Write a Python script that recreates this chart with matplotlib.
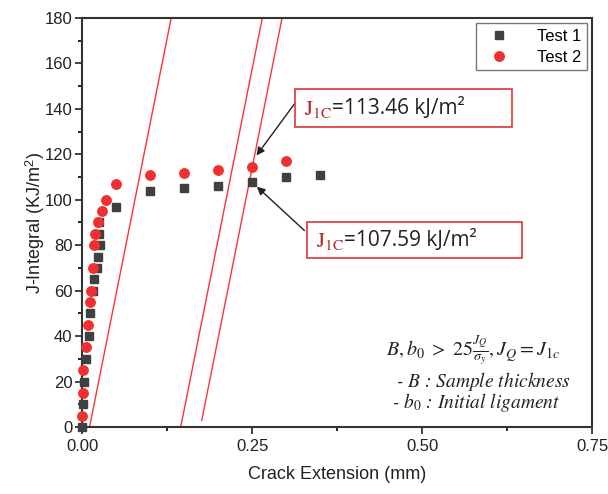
import numpy as np
import matplotlib.pyplot as plt
from matplotlib.patches import Rectangle

plt.rcParams['font.family'] = ['Liberation Sans', 'DejaVu Sans']
plt.rcParams['mathtext.fontset'] = 'stix'

# Test 1 (squares)
test1_da = [0, 0.002, 0.003, 0.006, 0.010, 0.012, 0.016, 0.018, 0.022, 0.023,
            0.026, 0.025, 0.025, 0.05, 0.10, 0.15, 0.20, 0.25, 0.30, 0.35]
test1_j = [0, 10, 20, 30, 40, 50, 60, 65, 70, 75,
           80, 85, 90, 97, 104, 105, 106, 108, 110, 111]

# Test 2 (circles)
test2_da = [0, 0.001, 0.002, 0.006, 0.008, 0.012, 0.013, 0.016, 0.017, 0.019,
            0.024, 0.029, 0.035, 0.05, 0.10, 0.15, 0.20, 0.25, 0.30]
test2_j = [5, 15, 25, 35, 45, 55, 60, 70, 80, 85,
           90, 95, 100, 107, 111, 112, 113, 114.5, 117]

# blunting / offset lines: x-intercepts, slope, start J
line_x0 = [0.011, 0.145, 0.174]
line_j_start = [0, 0, 3]
slope = 1500

j1c_1 = 107.59
j1c_2 = 113.46

fig = plt.figure(figsize=(6.08, 4.94), dpi=100)
ax = fig.add_axes([0.135, 0.1356, 0.839, 0.828])

for x0, js in zip(line_x0, line_j_start):
    jj = np.array([js, 180])
    ax.plot(x0 + jj / slope, jj, color='#ff3333', lw=1.0, zorder=2)

ax.plot(test1_da, test1_j, 's', color='#404040', ms=6.2, label='Test 1', zorder=3, clip_on=False)
ax.plot(test2_da, test2_j, 'o', color='#f03030', ms=6.8, label='Test 2', zorder=3, clip_on=False)

ax.set_xlim(0, 0.75)
ax.set_ylim(0, 180)
ax.set_xticks([0, 0.25, 0.5, 0.75])
ax.set_xticklabels(['0.00', '0.25', '0.50', '0.75'])
ax.set_xticks([0.125, 0.375, 0.625], minor=True)
ax.set_yticks(np.arange(0, 181, 20))
ax.set_yticks(np.arange(10, 180, 20), minor=True)
ax.tick_params(which='major', direction='out', length=5, width=1.2, labelsize=12, colors='#222222')
ax.tick_params(axis='y', which='major', pad=2)
ax.tick_params(which='minor', direction='out', length=3, width=1.2)
for s in ax.spines.values():
    s.set_linewidth(1.5)
    s.set_color('#333333')

ax.set_xlabel('Crack Extension (mm)', fontsize=13, color='#222222', labelpad=9)
ax.set_ylabel('J-Integral (KJ/m$^\\mathregular{2}$)', fontsize=13, color='#222222', labelpad=-2)

leg = ax.legend(loc='upper right', fontsize=12, frameon=True, fancybox=False,
                handletextpad=1.3, borderaxespad=0.3, borderpad=0.35, labelspacing=0.35)
leg.get_frame().set_edgecolor('#555555')
leg.get_frame().set_linewidth(1.0)

# annotation boxes
boxes = [((0.4176, 0.7335), 0.4254, 0.0925, 0.435, j1c_2),
         ((0.441, 0.413), 0.422, 0.088, 0.458, j1c_1)]
for (bx, by), bw, bh, tx, val in boxes:
    ax.add_patch(Rectangle((bx, by), bw, bh, transform=ax.transAxes, fill=False,
                           edgecolor='#e03535', lw=1.2, zorder=4))
    ax.text(tx, by + bh * 0.45, r'$\mathrm{J_{1C}}$', transform=ax.transAxes,
            fontsize=16, color='#b52a2a', va='center', ha='left')
ax.text(0.49, 0.7335 + 0.0925 * 0.5, '=%.2f kJ/m²' % j1c_2, transform=ax.transAxes,
        fontsize=15, family='Open Sans', color='#222222', va='center', ha='left')
ax.text(0.513, 0.413 + 0.088 * 0.5, '=%.2f kJ/m²' % j1c_1, transform=ax.transAxes,
        fontsize=15, family='Open Sans', color='#222222', va='center', ha='left')

arrow = dict(arrowstyle='-|>', color='#222222', lw=1.0, mutation_scale=12)
ax.annotate('', xy=(0.254, 118.5), xytext=(0.3147, 143.2), arrowprops=arrow)
ax.annotate('', xy=(0.254, 106.6), xytext=(0.330, 85.6), arrowprops=arrow)

# criterion text
ax.text(0.595, 0.188, r'$B, b_0\; >\; 25\frac{J_Q}{\sigma_y}, J_Q = J_{1c}$',
        transform=ax.transAxes, fontsize=14.5, color='#222222', ha='left', va='center')
ax.text(0.615, 0.112, r'- $B$ : Sample thickness', transform=ax.transAxes,
        fontsize=14, family='STIXGeneral', style='italic', color='#222222', ha='left', va='center')
ax.text(0.608, 0.06, r'- $b_0$ : Initial ligament', transform=ax.transAxes,
        fontsize=14, family='STIXGeneral', style='italic', color='#222222', ha='left', va='center')

fig.savefig('out.png', dpi=100)
